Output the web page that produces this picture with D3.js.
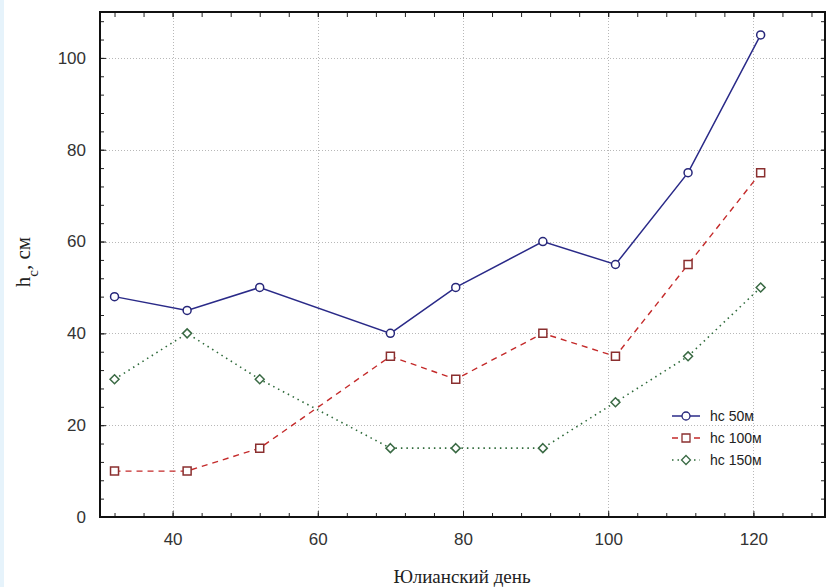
<!DOCTYPE html>
<html>
<head>
<meta charset="utf-8">
<script src="https://cdn.jsdelivr.net/npm/d3@7"></script>
<style>
  body { margin: 0; background: #fff; }
  svg { display: block; }
</style>
</head>
<body>
<div id="chart"></div>
<script>
// data
var days = [32, 42, 52, 70, 79, 91, 101, 111, 121];
var hc50 = [48, 45, 50, 40, 50, 60, 55, 75, 105];
var hc100 = [10, 10, 15, 35, 30, 40, 35, 55, 75];
var hc150 = [30, 40, 30, 15, 15, 15, 25, 35, 50];
var seriesNames = ["hc 50м", "hc 100м", "hc 150м"];
var xTicks = [40, 60, 80, 100, 120];
var yTicks = [0, 20, 40, 60, 80, 100];

var width = 827, height = 587;
var margin = {top: 12, right: 1, bottom: 70, left: 100};

var svg = d3.select('#chart').append('svg')
  .attr('width', width)
  .attr('height', height);

// faint blue strip on the left edge like the screenshot
svg.append('rect').attr('x', 0).attr('y', 0).attr('width', 4).attr('height', height).attr('fill', '#e6f3fb');

var x = d3.scaleLinear().domain([30, 130]).range([margin.left, width - margin.right]);
var y = d3.scaleLinear().domain([0, 110]).range([height - margin.bottom, margin.top]);

var x0 = x.range()[0], x1 = x.range()[1], y0 = y.range()[0], y1 = y.range()[1];

// grid
var grid = svg.append('g').attr('stroke', '#b8b8b8').attr('stroke-width', 1).attr('stroke-dasharray', '1,2');
grid.selectAll('.gx').data(xTicks).enter().append('line')
  .attr('x1', function(d) { return Math.round(x(d)) + 0.5; })
  .attr('x2', function(d) { return Math.round(x(d)) + 0.5; })
  .attr('y1', y1).attr('y2', y0);
grid.selectAll('.gy').data(yTicks.slice(1)).enter().append('line')
  .attr('y1', function(d) { return Math.round(y(d)) + 0.5; })
  .attr('y2', function(d) { return Math.round(y(d)) + 0.5; })
  .attr('x1', x0).attr('x2', x1);

// inside ticks on all four sides
var xMinor = d3.range(32, 130, 4);
var yMinor = d3.range(4, 110, 4);
var axisStyle = function(g) {
  g.select('.domain').remove();
  g.selectAll('line').attr('stroke', '#222');
  g.selectAll('text').attr('font-family', 'Liberation Sans, Arial, sans-serif').attr('font-size', 17).attr('fill', '#333');
};

svg.append('g').attr('transform', 'translate(0,' + y0 + ')')
  .call(d3.axisBottom(x).tickValues(xMinor).tickSize(-4).tickFormat(''))
  .call(axisStyle);
svg.append('g').attr('transform', 'translate(0,' + y0 + ')')
  .call(d3.axisBottom(x).tickValues(xTicks).tickSize(-6).tickPadding(16).tickFormat(d3.format('d')))
  .call(axisStyle);
svg.append('g').attr('transform', 'translate(0,' + y1 + ')')
  .call(d3.axisTop(x).tickValues(xMinor.concat(xTicks)).tickSize(-5).tickFormat(''))
  .call(axisStyle);
svg.append('g').attr('transform', 'translate(' + x0 + ',0)')
  .call(d3.axisLeft(y).tickValues(yMinor).tickSize(-4).tickFormat(''))
  .call(axisStyle);
svg.append('g').attr('transform', 'translate(' + x0 + ',0)')
  .call(d3.axisLeft(y).tickValues(yTicks).tickSize(-6).tickPadding(14).tickFormat(d3.format('d')))
  .call(axisStyle);
svg.append('g').attr('transform', 'translate(' + x1 + ',0)')
  .call(d3.axisRight(y).tickValues(yMinor.concat(yTicks)).tickSize(-5).tickFormat(''))
  .call(axisStyle);

// frame
svg.append('rect')
  .attr('x', x0).attr('y', y1).attr('width', x1 - x0 - 1).attr('height', y0 - y1)
  .attr('fill', 'none').attr('stroke', '#111').attr('stroke-width', 2);

var series = [
  {name: seriesNames[0], values: hc50, color: '#2a2a88', marker: '#27277a', dash: null, width: 1.5, shape: 'circle'},
  {name: seriesNames[1], values: hc100, color: '#c42a2a', marker: '#8a2f2f', dash: '6,5', width: 1.4, shape: 'square'},
  {name: seriesNames[2], values: hc150, color: '#2e6a3a', marker: '#3a6a44', dash: '1.5,4', width: 1.6, shape: 'diamond'}
];

var line = d3.line()
  .x(function(d, i) { return x(days[i]); })
  .y(function(d) { return y(d); });

// square rotated 45 degrees, same width and height
var rhombus = {
  draw: function(ctx, size) {
    var r = Math.sqrt(size / 2);
    ctx.moveTo(0, -r); ctx.lineTo(r, 0); ctx.lineTo(0, r); ctx.lineTo(-r, 0); ctx.closePath();
  }
};

var symbols = {
  circle: d3.symbol().type(d3.symbolCircle).size(50),
  square: d3.symbol().type(d3.symbolSquare).size(64),
  diamond: d3.symbol().type(rhombus).size(40)
};

series.forEach(function(s) {
  svg.append('path')
    .datum(s.values)
    .attr('d', line)
    .attr('fill', 'none')
    .attr('stroke', s.color)
    .attr('stroke-width', s.width)
    .attr('stroke-dasharray', s.dash);

  svg.selectAll('.m-' + s.shape).data(s.values).enter().append('path')
    .attr('transform', function(d, i) { return 'translate(' + x(days[i]) + ',' + y(d) + ')'; })
    .attr('d', symbols[s.shape])
    .attr('fill', '#fff')
    .attr('stroke', s.marker)
    .attr('stroke-width', 1.5);
});

// legend
var legend = svg.append('g').attr('transform', 'translate(672,416)');
series.forEach(function(s, i) {
  var g = legend.append('g').attr('transform', 'translate(0,' + (i * 22) + ')');
  g.append('line').attr('x1', 0).attr('x2', 28).attr('y1', 0).attr('y2', 0)
    .attr('stroke', s.color).attr('stroke-width', s.width).attr('stroke-dasharray', s.dash);
  g.append('path').attr('transform', 'translate(14,0)').attr('d', symbols[s.shape])
    .attr('fill', '#fff').attr('stroke', s.marker).attr('stroke-width', 1.3);
  g.append('text').attr('x', 38).attr('y', 5)
    .attr('font-family', 'Liberation Sans, Arial, sans-serif').attr('font-size', 14)
    .attr('fill', '#222')
    .text(s.name);
});

// axis titles
svg.append('text')
  .attr('x', 462).attr('y', 583)
  .attr('text-anchor', 'middle')
  .attr('font-family', 'Liberation Serif, Times New Roman, serif').attr('font-size', 19).attr('fill', '#222')
  .text('Юлианский день');

var yl = svg.append('text')
  .attr('transform', 'translate(30,262) rotate(-90)')
  .attr('text-anchor', 'middle')
  .attr('font-family', 'Liberation Serif, Times New Roman, serif').attr('font-size', 21).attr('fill', '#222');
yl.append('tspan').text('h');
yl.append('tspan').attr('baseline-shift', 'sub').attr('font-size', 15).text('c');
yl.append('tspan').text(', см');
</script>
</body>
</html>
